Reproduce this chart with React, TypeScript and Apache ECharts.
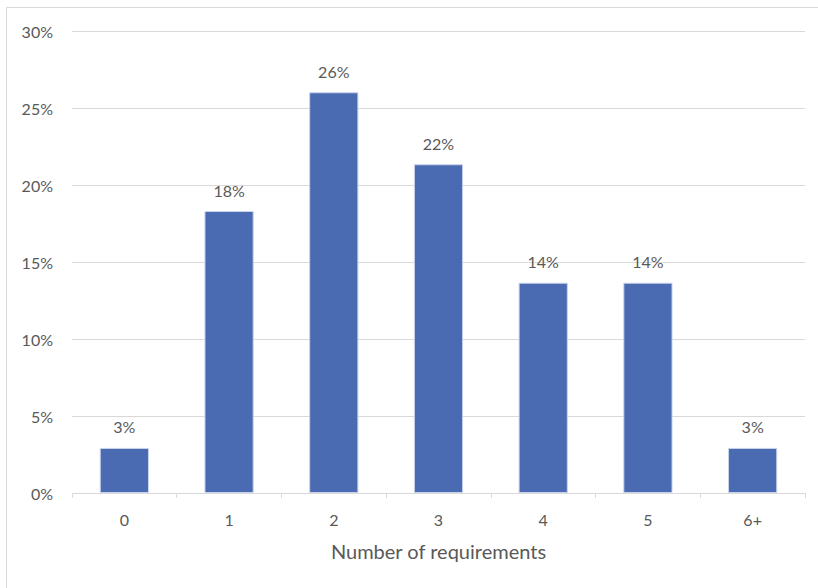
import React, { useEffect, useRef } from "react";
import * as echarts from "echarts";

const categories = ["0", "1", "2", "3", "4", "5", "6+"];
const shares = [2.93, 18.33, 26.05, 21.37, 13.67, 13.67, 2.93];
const shareLabels = ["3%", "18%", "26%", "22%", "14%", "14%", "3%"];
const yTicks = [0, 5, 10, 15, 20, 25, 30];
const xAxisTitle = "Number of requirements";

export default function App() {
  const ref = useRef<HTMLDivElement>(null);
  useEffect(() => {
    if (!ref.current) return;
    const chart = echarts.init(ref.current, undefined, { renderer: "svg" });
    const font = "Lato, 'Open Sans', sans-serif";
    chart.setOption({
      animation: false,
      backgroundColor: "#ffffff",
      textStyle: { fontFamily: font },
      grid: { left: 72, right: 13, top: 31.5, bottom: 95, containLabel: false },
      graphic: [
        {
          type: "rect",
          shape: { x: 6.5, y: 7.5, width: 840, height: 620 },
          style: { fill: "none", stroke: "#d9d9d9", lineWidth: 1 },
          silent: true,
        },
      ],
      xAxis: {
        type: "category",
        data: categories,
        name: xAxisTitle,
        nameLocation: "middle",
        nameGap: 48,
        nameTextStyle: { color: "#595959", fontSize: 20, fontFamily: font },
        axisLine: { lineStyle: { color: "#d9d9d9", width: 1 } },
        axisTick: { show: true, length: 5, lineStyle: { color: "#d9d9d9" } },
        axisLabel: { color: "#595959", fontSize: 16, margin: 18, fontFamily: font },
      },
      yAxis: {
        type: "value",
        min: yTicks[0],
        max: yTicks[yTicks.length - 1],
        interval: 5,
        axisLine: { show: false },
        axisTick: { show: false },
        axisLabel: {
          color: "#595959",
          fontSize: 16,
          margin: 19,
          fontFamily: font,
          formatter: (v: number) => `${v}%`,
        },
        splitLine: { lineStyle: { color: "#d9d9d9", width: 1 } },
      },
      series: [
        {
          type: "bar",
          data: shares,
          barWidth: "47%",
          itemStyle: { color: "#4a6bb2", borderColor: "#c9d4ec", borderWidth: 1 },
          label: {
            show: true,
            position: "top",
            distance: 13,
            color: "#595959",
            fontSize: 16,
            fontFamily: font,
            formatter: (p: any) => shareLabels[p.dataIndex],
          },
        },
      ],
    });
    return () => chart.dispose();
  }, []);
  return (
    <div
      ref={ref}
      style={{ position: "fixed", left: 0, top: 0, width: 818, height: 588 }}
    />
  );
}
